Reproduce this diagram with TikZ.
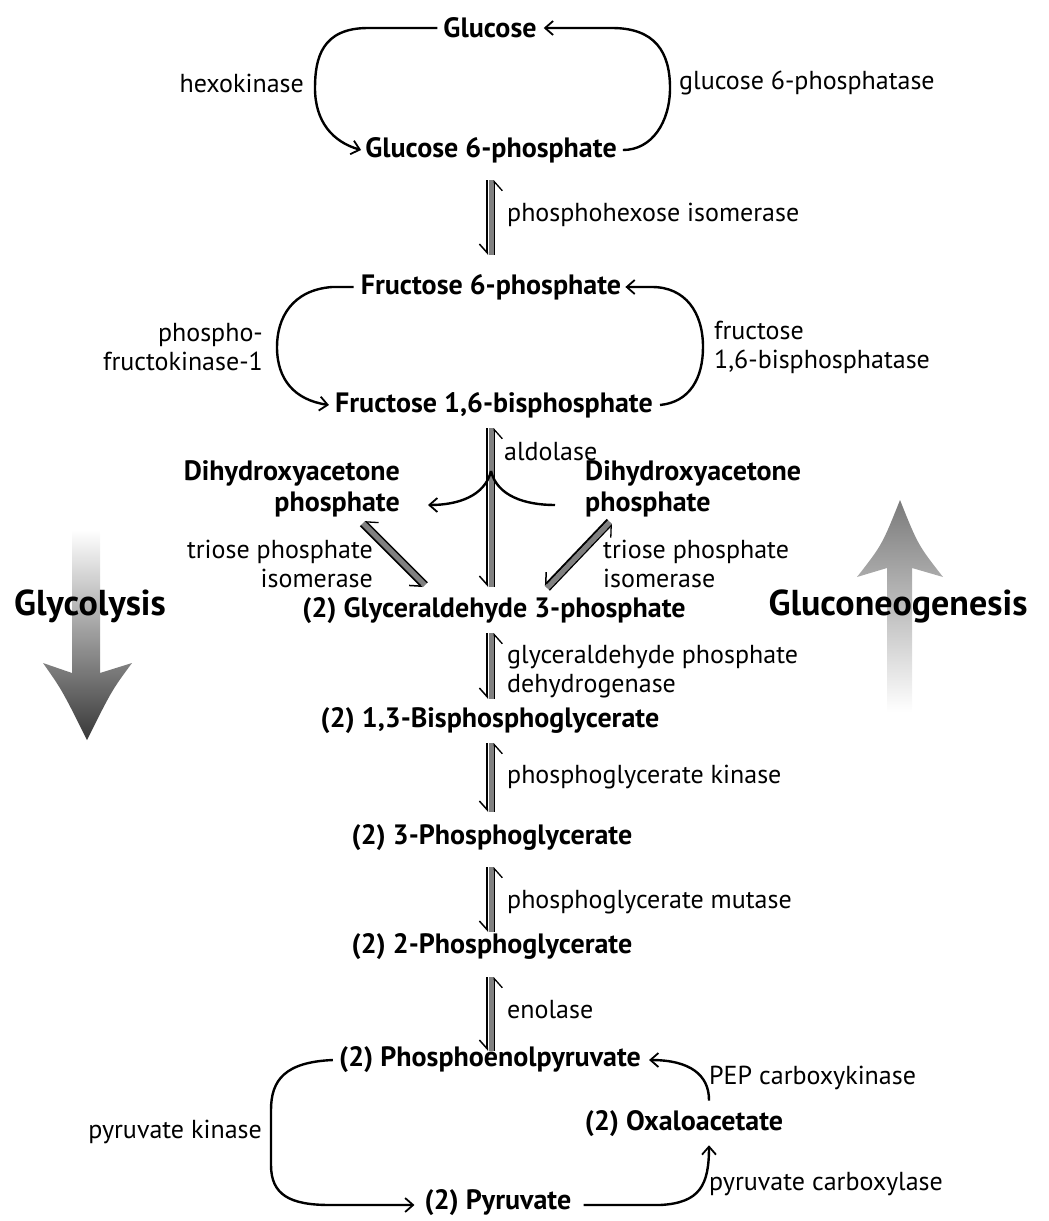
\documentclass[tikz,border=0pt]{standalone}
\usepackage{fontspec}
\setmainfont{PT Sans}
\usetikzlibrary{arrows.meta,calc}
\tikzset{
 cmp/.style={font=\bfseries\fontsize{28}{31}\selectfont, inner sep=0pt},
 enz/.style={font=\fontsize{26}{29}\selectfont, inner sep=0pt},
 big/.style={font=\bfseries\fontsize{36}{40}\selectfont, inner sep=0pt},
 loop/.style={line width=2.4pt, -{Straight Barb[length=8pt,width=14pt,line width=1.8pt]}},
 loopn/.style={line width=2.4pt},
 fwdline/.style={line width=1.9pt, -{Straight Barb[harpoon,swap,length=9pt,width=16pt,line width=1.5pt]}},
 bwdline/.style={line width=1.3pt, {Straight Barb[harpoon,swap,length=9pt,width=16pt,line width=1.3pt]}-},
 band/.style={line width=5pt, draw=black!50},
}
\newcommand\revarrow[2]{%
 \draw[band] (#1) -- (#2);
 \draw[fwdline] ($(#1)!3.6pt!-90:(#2)$) -- ($(#2)!3.6pt!90:(#1)$);
 \draw[bwdline] ($(#1)!3.3pt!90:(#2)$) -- ($(#2)!3.3pt!-90:(#1)$);
}
\begin{document}
\begin{tikzpicture}[x=1pt,y=-1pt]
\useasboundingbox (0,0) rectangle (1049,1221);
% big gradient arrows
\shade[top color=white, bottom color=black!78]
 (72,530) -- (100,530) -- (100,673) -- (132,663) .. controls (112,690) .. (87,740)
 .. controls (62,690) .. (43,663) -- (72,673) -- cycle;
\shade[top color=black!52, bottom color=white]
 (900,500) .. controls (918,545) .. (943,577) -- (912,568) -- (912,712) -- (887,712)
 -- (887,568) -- (857,577) .. controls (882,545) .. cycle;
\node[big] (glyco) at (90,606) {Glycolysis};
\node[big] (gluco) at (898,606) {Gluconeogenesis};
% compounds
\node[cmp] (glc) at (490,28) {Glucose};
\node[cmp] (g6p) at (491,150) {Glucose 6-phosphate};
\node[cmp] (f6p) at (491,287) {Fructose 6-phosphate};
\node[cmp] (f16) at (494,405) {Fructose 1,6-bisphosphate};
\node[cmp,align=right,anchor=east] (dhapL) at (400,489) {Dihydroxyacetone\\phosphate};
\node[cmp,align=left,anchor=west] (dhapR) at (585,489) {Dihydroxyacetone\\phosphate};
\node[cmp] (g3p) at (494,611) {(2) Glyceraldehyde 3-phosphate};
\node[cmp] (bpg) at (490,721) {(2) 1,3-Bisphosphoglycerate};
\node[cmp] (pg3) at (492,838) {(2) 3-Phosphoglycerate};
\node[cmp] (pg2) at (492,947) {(2) 2-Phosphoglycerate};
\node[cmp] (pep) at (490,1060) {(2) Phosphoenolpyruvate};
\node[cmp] (oaa) at (684,1124) {(2) Oxaloacetate};
\node[cmp] (pyr) at (498,1203) {(2) Pyruvate};
% enzymes
\node[enz,anchor=east] (hk) at (304,83) {hexokinase};
\node[enz,anchor=west] (g6pase) at (679,83) {glucose 6-phosphatase};
\node[enz,anchor=west] (pgi) at (507,215) {phosphohexose isomerase};
\node[enz,anchor=east,align=right] (pfk) at (263,347) {phospho-\\fructokinase-1};
\node[enz,anchor=west,align=left] (fbp) at (714,347) {fructose\\1,6-bisphosphatase};
\node[enz,anchor=west] (ald) at (504,452) {aldolase};
\node[enz,anchor=east,align=right] (tpiL) at (373,564) {triose phosphate\\isomerase};
\node[enz,anchor=west,align=left] (tpiR) at (603,564) {triose phosphate\\isomerase};
\node[enz,anchor=west,align=left] (gapdh) at (507,672) {glyceraldehyde phosphate\\dehydrogenase};
\node[enz,anchor=west] (pgk) at (507,777) {phosphoglycerate kinase};
\node[enz,anchor=west] (pgm) at (507,902) {phosphoglycerate mutase};
\node[enz,anchor=west] (eno) at (507,1010) {enolase};
\node[enz,anchor=east] (pk) at (262,1132) {pyruvate kinase};
\node[enz,anchor=west] (pepck) at (709,1078) {PEP carboxykinase};
\node[enz,anchor=west] (pc) at (709,1184) {pyruvate carboxylase};
% axis of reversible arrows
\coordinate (ax) at (491,0);
\revarrow{$(g6p -| ax)+(0,30)$}{$(f6p -| ax)+(0,-32)$}
\revarrow{$(f16 -| ax)+(0,23)$}{$(g3p -| ax)+(0,-24)$}
\revarrow{$(g3p -| ax)+(0,22)$}{$(bpg -| ax)+(0,-22)$}
\revarrow{$(bpg -| ax)+(0,22)$}{$(pg3 -| ax)+(0,-26)$}
\revarrow{$(pg3 -| ax)+(0,29)$}{$(pg2 -| ax)+(0,-15)$}
\revarrow{$(pg2 -| ax)+(0,30)$}{$(pep -| ax)+(0,-9)$}
% triose phosphate isomerase (diagonal)
\revarrow{$(dhapL.east)+(-37,34)$}{$(g3p)+(-69,-26)$}
\revarrow{$(dhapR.west)+(25,33)$}{$(g3p)+(53,-23)$}
% aldolase branches
\coordinate (br) at ($(f16 -| ax)+(0,66)$);
\draw[loop] (br) .. controls +(-6,25) and +(30,0) .. ($(dhapL.east)+(28,16)$);
\draw[loopn] ($(dhapR.west)+(-30,16)$) .. controls +(-30,0) and +(6,25) .. (br);
% glucose loop
\draw[loop] ([xshift=-6pt]glc.west) -- (368,28) .. controls (322,28) and (315,58) .. (315,88)
 .. controls (315,122) and (333,142) .. ([xshift=-4pt]g6p.west);
\draw[loop] ([xshift=6pt]g6p.east) .. controls (652,150) and (670,122) .. (670,88)
 .. controls (670,52) and (655,28) .. (612,28) -- ([xshift=7pt]glc.east);
% fructose loop
\draw[loop] ([xshift=-7pt]f6p.west) -- (332,287) .. controls (292,290) and (277,318) .. (277,347)
 .. controls (277,380) and (295,400) .. ([xshift=-6pt]f16.west);
\draw[loop] ([xshift=7pt]f16.east) .. controls (690,402) and (703,378) .. (703,347)
 .. controls (703,312) and (685,287) .. (652,287) -- ([xshift=4pt]f6p.east);
% PEP / pyruvate / oxaloacetate
\draw[loop] ([xshift=-6pt]pep.west) .. controls (285,1062) and (271,1080) .. (271,1110)
 -- (271,1165) .. controls (271,1195) and (290,1205) .. (330,1205) -- ([xshift=-10pt]pyr.west |- 0,1205);
\draw[loop] ([xshift=12pt]pyr.east |- 0,1205) -- (660,1205) .. controls (700,1203) and (709,1185) .. ([yshift=-8pt]oaa.south -| 709,0);
\draw[loop] ([yshift=10pt]oaa.north -| 709,0) -- (709,1100) .. controls (709,1075) and (690,1060) .. ([xshift=8pt]pep.east);
\end{tikzpicture}
\end{document}
